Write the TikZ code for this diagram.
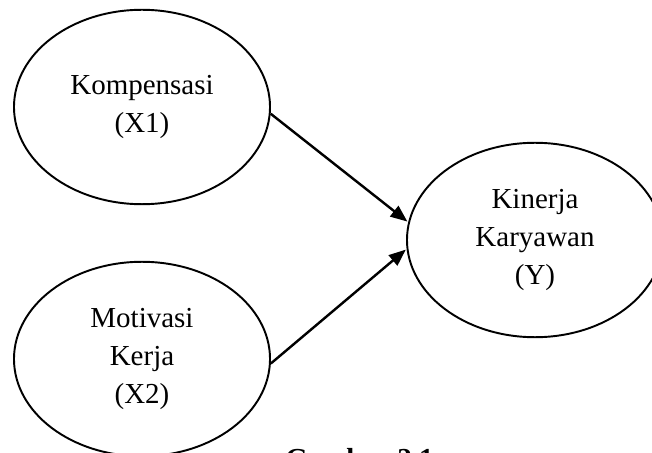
\documentclass[tikz,border=0pt]{standalone}
\usepackage{fontspec}
\setmainfont{Liberation Serif}
\usetikzlibrary{shapes.geometric,arrows.meta}

\tikzset{
  var/.style={ellipse, draw, line width=0.8pt, inner sep=0pt,
    minimum width=106pt, minimum height=80.5pt, align=center,
    font=\fontsize{12}{15.9}\selectfont},
  link/.style={line width=1pt, -{Triangle[length=7pt,width=5.5pt]}, shorten >=0.4pt}
}

\begin{document}
\begin{tikzpicture}[x=0.414pt,y=0.414pt]
  \useasboundingbox (0,0) rectangle (652,452);
  \clip (0,0) rectangle (652,452);

  \node[var] (komp) at (142,345) {Kompensasi\\(X1)};
  \node[var] (motiv) at (142,93) {Motivasi\\Kerja\\(X2)};
  \node[var] (kin) at (535,212) {Kinerja\\Karyawan\\(Y)};

  \draw[link] (komp.-3) -- (kin.172.7);
  \draw[link] (motiv.-2) -- (kin.184.7);

  % caption, cut by the page edge
  \node[anchor=base west, inner sep=0pt, font=\fontsize{12}{14}\selectfont\bfseries] (cap) at (285,-16) {Gambar 2.1};
\end{tikzpicture}
\end{document}
